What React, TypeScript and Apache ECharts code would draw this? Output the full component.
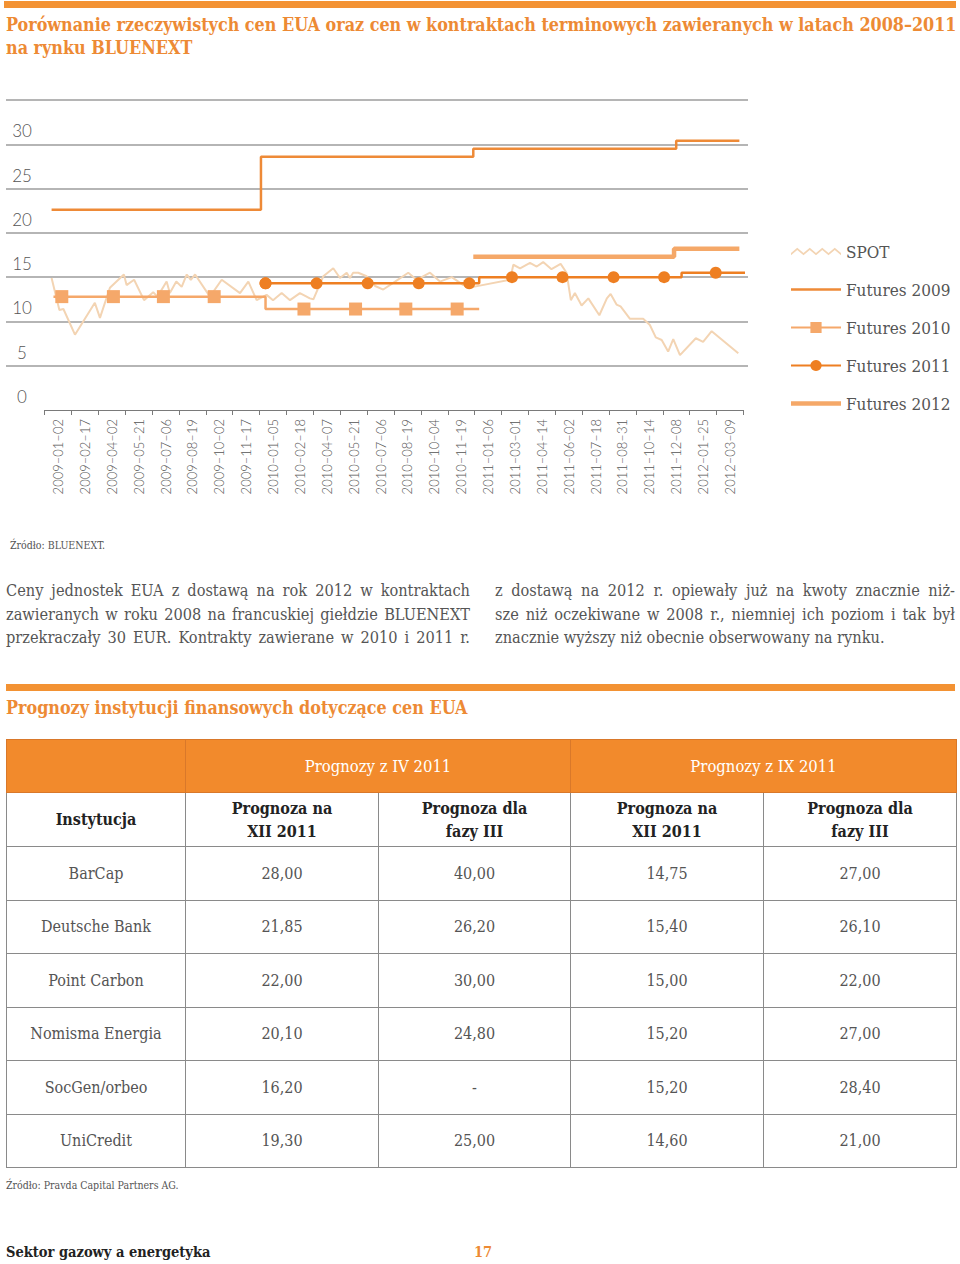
import React, { useEffect, useRef } from "react";
import * as echarts from "echarts";

// ---------- DATA ----------
const dateLabels = [
  "2009–01–02", "2009–02–17", "2009–04–02", "2009–05–21", "2009–07–06", "2009–08–19",
  "2009–10–02", "2009–11–17", "2010–01–05", "2010–02–18", "2010–04–07", "2010–05–21",
  "2010–07–06", "2010–08–19", "2010–10–04", "2010–11–19", "2011–01–06", "2011–03–01",
  "2011–04–14", "2011–06–02", "2011–07–18", "2011–08–31", "2011–10–14", "2011–12–08",
  "2012–01–25", "2012–03–09",
];
const yTicks = [0, 5, 10, 15, 20, 25, 30, 35];

// position along the date axis (in label-slot units) and price (EUR)
const spotPos = [
  0.26, 0.55, 0.7, 1.13, 1.87, 2.06, 2.43, 2.95, 3.05, 3.33, 3.7, 4.04, 4.2, 4.54, 4.66, 4.9,
  5.1, 5.29, 5.44, 5.6, 6.15, 6.59, 7.27, 7.58, 7.89, 8.26, 8.5, 8.82, 9.13, 9.5, 9.87, 10.0,
  10.37, 10.74, 10.99, 11.24, 11.36, 11.48, 11.67, 11.98, 12.3, 12.6, 13.04, 13.53, 13.84,
  14.34, 14.71, 15.15, 15.58, 15.95, 17.32, 17.44, 17.69, 18.06, 18.31, 18.55, 18.86, 19.2,
  19.42, 19.58, 19.73, 19.98, 20.23, 20.64, 20.92, 21.06, 21.28, 21.43, 21.78, 22.27, 22.52,
  22.74, 22.96, 23.2, 23.39, 23.64, 24.23, 24.5, 24.82, 25.81,
];
const spotPrice = [
  14.9, 11.3, 11.4, 8.5, 12.1, 10.4, 13.8, 15.3, 14.1, 14.7, 12.4, 13.3, 12.8, 14.5, 13.2, 14.5,
  13.9, 15.3, 14.7, 15.3, 12.8, 14.7, 13.2, 14.5, 12.4, 13.0, 12.4, 13.2, 12.4, 13.2, 12.6, 12.5,
  15.1, 16.0, 14.9, 15.5, 14.9, 15.5, 15.5, 15.1, 14.0, 13.6, 14.5, 15.5, 14.7,
  15.5, 14.5, 15.0, 14.1, 13.9, 14.7, 16.4, 16.0, 16.6, 16.2, 16.7, 15.9, 16.5,
  15.5, 12.4, 13.2, 11.8, 12.6, 10.7, 12.6, 13.1, 11.9, 11.7, 10.3, 10.3, 9.6,
  8.2, 7.9, 6.6, 8.0, 6.2, 8.1, 7.7, 8.9, 6.4,
];

// futures: price levels (each level holds from start to end)
const f2009Start = [0.26, 8.05, 15.95, 23.5];
const f2009End = [8.05, 15.95, 23.5, 25.85];
const f2009Price = [22.6, 28.6, 29.5, 30.4];

const f2010Start = [0.33, 8.22];
const f2010End = [8.22, 16.17];
const f2010Price = [12.8, 11.4];
const f2010Markers = [0.64, 2.56, 4.42, 6.31, 8.22, 9.65, 11.57, 13.44, 15.35];

const f2011Start = [8.22, 16.17, 23.7];
const f2011End = [16.17, 23.7, 26.06];
const f2011Price = [14.3, 15.0, 15.5];
const f2011Markers = [8.22, 10.12, 12.02, 13.92, 15.8, 17.39, 19.27, 21.17, 23.05, 24.97];

const f2012Start = [15.95, 23.42];
const f2012End = [23.42, 25.85];
const f2012Price = [17.3, 18.2];

// table
const institutions = ["BarCap", "Deutsche Bank", "Point Carbon", "Nomisma Energia", "SocGen/orbeo", "UniCredit"];
const aprDec2011 = ["28,00", "21,85", "22,00", "20,10", "16,20", "19,30"];
const aprPhase3 = ["40,00", "26,20", "30,00", "24,80", "-", "25,00"];
const sepDec2011 = ["14,75", "15,40", "15,00", "15,20", "15,20", "14,60"];
const sepPhase3 = ["27,00", "26,10", "22,00", "27,00", "28,40", "21,00"];

const leftParagraph = [
  "Ceny jednostek EUA z dostawą na rok 2012 w kontraktach",
  "zawieranych w roku 2008 na francuskiej giełdzie BLUENEXT",
  "przekraczały 30 EUR. Kontrakty zawierane w 2010 i 2011 r.",
];
const rightParagraph = [
  "z dostawą na 2012 r. opiewały już na kwoty znacznie niż-",
  "sze niż oczekiwane w 2008 r., niemniej ich poziom i tak był",
  "znacznie wyższy niż obecnie obserwowany na rynku.",
];

// ---------- helpers ----------
function levelsToPoints(starts: number[], ends: number[], prices: number[], markers: number[] = []) {
  const pts: any[] = [];
  starts.forEach((s, i) => {
    const p = prices[i];
    const inside = markers.filter((m) => m >= s - 0.001 && m < ends[i] - 0.001 && !(i > 0 && Math.abs(m - s) < 0.001));
    const xs = [s, ...inside, ends[i]].sort((a, b) => a - b);
    xs.forEach((x) => {
      const isMarker = inside.some((m) => Math.abs(m - x) < 0.0001);
      pts.push(isMarker ? { value: [x, p] } : { value: [x, p], symbol: "none" });
    });
  });
  return pts;
}

const ORANGE = "#ED8A34";
const SERIF = "'DejaVu Serif Condensed', 'DejaVu Serif', serif";
const SANS = "Lato, 'Open Sans', sans-serif";

function Chart() {
  const ref = useRef<HTMLDivElement>(null);
  useEffect(() => {
    const chart = echarts.init(ref.current!, null, { renderer: "svg" });
    const zigzag =
      "path://M0,5 L6,0 L12,5 L18,0 L24,5 L30,0 L36,5 L42,0 L48,5 L48,7 L42,2 L36,7 L30,2 L24,7 L18,2 L12,7 L6,2 L0,7 Z";
    const thinBar = "path://M0,0 L50,0 L50,2.4 L0,2.4 Z";
    const thickBar = "path://M0,0 L50,0 L50,4.5 L0,4.5 Z";
    const gridColors = yTicks.map((t, i) => (i === 0 ? "rgba(0,0,0,0)" : "#9c9c9c"));
    chart.setOption({
      animation: false,
      grid: [
        { left: 6, width: 742, top: 100, height: 310 },
        { left: 44.6, width: 698.8, top: 100, height: 310 },
      ],
      xAxis: [
        { type: "value", gridIndex: 0, min: 0, max: 1, show: false },
        {
          type: "category",
          gridIndex: 1,
          data: dateLabels,
          boundaryGap: true,
          axisLine: { lineStyle: { color: "#7a7a7a", width: 1.2 } },
          axisTick: { show: true, length: 5, lineStyle: { color: "#7a7a7a" } },
          axisLabel: {
            rotate: 90,
            interval: 0,
            margin: 9,
            fontSize: 13,
            color: "#555",
            fontFamily: SANS,
            fontWeight: 300,
          },
        },
        { type: "value", gridIndex: 1, min: 0, max: 26, show: false },
      ],
      yAxis: [
        {
          type: "value",
          gridIndex: 0,
          min: 0,
          max: 35,
          interval: 5,
          axisLine: { show: false },
          axisTick: { show: false },
          splitLine: { show: true, lineStyle: { color: gridColors, width: 1.5 } },
          axisLabel: {
            inside: true,
            margin: 16,
            align: "center",
            verticalAlign: "bottom",
            padding: [0, 0, 5, 0],
            fontSize: 17,
            color: "#555",
            fontFamily: SANS,
            fontWeight: 300,
            formatter: (v: number) => (v === 35 ? "" : String(v)),
          },
        },
        { type: "value", gridIndex: 1, min: 0, max: 35, show: false },
      ],
      legend: {
        orient: "vertical",
        left: 785,
        top: 238,
        itemWidth: 50,
        itemHeight: 14,
        itemGap: 21,
        symbolKeepAspect: true,
        textStyle: { fontSize: 17, color: "#555", fontFamily: SERIF, lineHeight: 14 },
        data: [
          { name: "SPOT", icon: zigzag },
          { name: "Futures 2009", icon: thinBar },
          "Futures 2010",
          "Futures 2011",
          { name: "Futures 2012", icon: thickBar },
        ],
      },
      series: [
        {
          name: "SPOT",
          type: "line",
          xAxisIndex: 2,
          yAxisIndex: 1,
          symbol: "none",
          color: "#F3D4B3",
          lineStyle: { color: "#F3D4B3", width: 2 },
          data: spotPos.map((x, i) => [x, spotPrice[i]]),
          z: 1,
        },
        {
          name: "Futures 2009",
          type: "line",
          xAxisIndex: 2,
          yAxisIndex: 1,
          symbol: "none",
          color: "#EE8A37",
          lineStyle: { color: "#EE8A37", width: 2.5 },
          data: levelsToPoints(f2009Start, f2009End, f2009Price),
          z: 3,
        },
        {
          name: "Futures 2010",
          type: "line",
          xAxisIndex: 2,
          yAxisIndex: 1,
          symbol: "rect",
          symbolSize: 13,
          color: "#F5A86A",
          itemStyle: { color: "#F5A86A" },
          lineStyle: { color: "#F5A86A", width: 2.5 },
          data: levelsToPoints(f2010Start, f2010End, f2010Price, f2010Markers),
          z: 3,
        },
        {
          name: "Futures 2011",
          type: "line",
          xAxisIndex: 2,
          yAxisIndex: 1,
          symbol: "circle",
          symbolSize: 12,
          color: "#EE7F22",
          itemStyle: { color: "#EE7F22" },
          lineStyle: { color: "#EE7F22", width: 2.5 },
          data: levelsToPoints(f2011Start, f2011End, f2011Price, f2011Markers),
          z: 4,
        },
        {
          name: "Futures 2012",
          type: "line",
          xAxisIndex: 2,
          yAxisIndex: 1,
          symbol: "none",
          color: "#F5A868",
          lineStyle: { color: "#F5A868", width: 4.5 },
          data: levelsToPoints(f2012Start, f2012End, f2012Price),
          z: 2,
        },
      ],
    });
    return () => chart.dispose();
  }, []);
  return <div ref={ref} style={{ position: "absolute", left: 0, top: 0, width: 960, height: 520 }} />;
}

const cellBase: React.CSSProperties = {
  border: "1px solid #8a8a8a",
  textAlign: "center",
  verticalAlign: "middle",
  padding: 0,
  fontFamily: SERIF,
  fontSize: 16,
  color: "#555",
};

const lineStyleJustified = (w: number): React.CSSProperties => ({
  width: w,
  textAlign: "justify",
  textAlignLast: "justify" as any,
  whiteSpace: "nowrap",
  overflow: "visible",
  height: 23.5,
});

export default function App() {
  const rowH = 53.5;
  const paraBase: React.CSSProperties = {
    position: "absolute",
    top: 579,
    fontSize: 16.2,
    lineHeight: "23.5px",
    color: "#555",
    fontFamily: SERIF,
  };
  return (
    <div style={{ position: "absolute", left: 0, top: 0, width: 960, height: 1264, background: "#fff", overflow: "hidden", fontFamily: SERIF }}>
      <div style={{ position: "absolute", left: 4, top: 1, width: 952, height: 7, background: "#F39233" }} />
      <div
        style={{
          position: "absolute",
          left: 6,
          top: 13,
          width: 954,
          fontFamily: SERIF,
          fontWeight: 700,
          fontSize: 17.8,
          lineHeight: "23px",
          color: ORANGE,
          whiteSpace: "nowrap",
        }}
      >
        Porównanie rzeczywistych cen EUA oraz cen w kontraktach terminowych zawieranych w latach 2008–2011
        <br />
        na rynku BLUENEXT
      </div>

      <Chart />

      <div style={{ position: "absolute", left: 10, top: 539, fontSize: 10.5, color: "#555", fontFamily: SERIF }}>Źródło: BLUENEXT.</div>

      <div style={{ ...paraBase, left: 6 }}>
        {leftParagraph.map((l) => (
          <div key={l} style={lineStyleJustified(464)}>
            {l}
          </div>
        ))}
      </div>
      <div style={{ ...paraBase, left: 495 }}>
        {rightParagraph.map((l, i) =>
          i < 2 ? (
            <div key={l} style={lineStyleJustified(i === 0 ? 460 : 460)}>
              {l}
            </div>
          ) : (
            <div key={l} style={{ whiteSpace: "nowrap", height: 23.5 }}>
              {l}
            </div>
          )
        )}
      </div>

      <div style={{ position: "absolute", left: 6, top: 684, width: 949, height: 7, background: "#F39233" }} />
      <div
        style={{
          position: "absolute",
          left: 6,
          top: 697,
          fontWeight: 700,
          fontSize: 17.8,
          color: ORANGE,
          fontFamily: SERIF,
          whiteSpace: "nowrap",
        }}
      >
        Prognozy instytucji finansowych dotyczące cen EUA
      </div>

      <table
        style={{
          position: "absolute",
          left: 6,
          top: 739,
          width: 950,
          borderCollapse: "collapse",
          tableLayout: "fixed",
        }}
      >
        <colgroup>
          <col style={{ width: 179 }} />
          <col style={{ width: 193 }} />
          <col style={{ width: 192 }} />
          <col style={{ width: 193 }} />
          <col style={{ width: 193 }} />
        </colgroup>
        <tbody>
          <tr style={{ height: 53 }}>
            <td style={{ ...cellBase, background: "#F28A2C", border: "1px solid #d9782a" }} />
            <td colSpan={2} style={{ ...cellBase, background: "#F28A2C", color: "#fff", fontSize: 16.5, border: "1px solid #d9782a" }}>
              Prognozy z IV 2011
            </td>
            <td colSpan={2} style={{ ...cellBase, background: "#F28A2C", color: "#fff", fontSize: 16.5, border: "1px solid #d9782a" }}>
              Prognozy z IX 2011
            </td>
          </tr>
          <tr style={{ height: 54 }}>
            <td style={{ ...cellBase, fontWeight: 700, color: "#222" }}>Instytucja</td>
            <td style={{ ...cellBase, fontWeight: 700, color: "#222", lineHeight: "23px" }}>
              Prognoza na
              <br />
              XII 2011
            </td>
            <td style={{ ...cellBase, fontWeight: 700, color: "#222", lineHeight: "23px" }}>
              Prognoza dla
              <br />
              fazy III
            </td>
            <td style={{ ...cellBase, fontWeight: 700, color: "#222", lineHeight: "23px" }}>
              Prognoza na
              <br />
              XII 2011
            </td>
            <td style={{ ...cellBase, fontWeight: 700, color: "#222", lineHeight: "23px" }}>
              Prognoza dla
              <br />
              fazy III
            </td>
          </tr>
          {institutions.map((name, i) => (
            <tr key={name} style={{ height: rowH }}>
              <td style={cellBase}>{name}</td>
              <td style={cellBase}>{aprDec2011[i]}</td>
              <td style={cellBase}>{aprPhase3[i]}</td>
              <td style={cellBase}>{sepDec2011[i]}</td>
              <td style={cellBase}>{sepPhase3[i]}</td>
            </tr>
          ))}
        </tbody>
      </table>

      <div style={{ position: "absolute", left: 6, top: 1179, fontSize: 10.5, color: "#555", fontFamily: SERIF }}>
        Źródło: Pravda Capital Partners AG.
      </div>
      <div style={{ position: "absolute", left: 6, top: 1243, fontSize: 14.5, fontWeight: 700, color: "#222", fontFamily: SERIF }}>
        Sektor gazowy a energetyka
      </div>
      <div style={{ position: "absolute", left: 474, top: 1243, fontSize: 14.5, fontWeight: 700, color: ORANGE, fontFamily: SERIF }}>
        17
      </div>
    </div>
  );
}
